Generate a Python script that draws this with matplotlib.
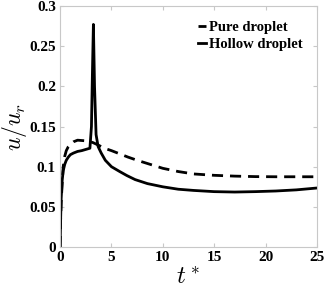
import matplotlib
matplotlib.use("Agg")
import matplotlib.pyplot as plt

plt.rcParams['font.family'] = ['Liberation Serif', 'DejaVu Serif']
plt.rcParams['mathtext.fontset'] = 'cm'

# pure droplet (dashed)
t_pure = [0, 0.05, 0.1, 0.2, 0.3, 0.45, 0.6, 0.8, 1.0, 1.3, 1.7, 2.2, 2.7, 3.2,
          3.7, 4.3, 5.0, 5.8, 6.6, 7.5, 8.5, 10, 11.5, 13, 15, 17, 19, 21, 23, 25]
u_pure = [0, 0.035, 0.055, 0.08, 0.1, 0.113, 0.12, 0.125, 0.128, 0.131, 0.133,
          0.1325, 0.132, 0.13, 0.127, 0.123, 0.12, 0.116, 0.112, 0.108, 0.104,
          0.098, 0.094, 0.091, 0.0893, 0.0883, 0.0877, 0.0875, 0.0875, 0.0875]

# hollow droplet (solid)
t_hollow = [0, 0.05, 0.1, 0.2, 0.3, 0.45, 0.6, 0.8, 1.0, 1.3, 1.7, 2.1, 2.5, 2.9,
            3.05, 3.15, 3.24, 3.35, 3.5, 3.7, 4.0, 4.4, 5.0, 5.8, 6.5, 7.3, 8.5,
            10, 11.5, 13, 15, 17, 19, 21, 23, 25]
u_hollow = [0, 0.035, 0.06, 0.083, 0.095, 0.103, 0.108, 0.112, 0.115, 0.117,
            0.119, 0.12, 0.1215, 0.123, 0.15, 0.22, 0.277, 0.2, 0.14, 0.125,
            0.117, 0.108, 0.1, 0.094, 0.089, 0.084, 0.079, 0.075, 0.072, 0.0705,
            0.069, 0.0685, 0.069, 0.0698, 0.0712, 0.0735]

xticks = [0, 5, 10, 15, 20, 25]
yticks = [0, 0.05, 0.1, 0.15, 0.2, 0.25, 0.3]
ytick_labels = ["0", "0.05", "0.1", "0.15", "0.2", "0.25", "0.3"]

fig = plt.figure(figsize=(3.25, 2.97), dpi=100)
ax = fig.add_axes([0.185, 0.168, 0.79, 0.812])

ax.plot(t_pure, u_pure, color="black", lw=2, ls=(0, (4, 2.5)), label="Pure droplet")
ax.plot(t_hollow, u_hollow, color="black", lw=2, label="Hollow droplet")

ax.set_xlim(0, 25)
ax.set_ylim(0, 0.3)
ax.set_xticks(xticks)
ax.set_xticklabels([str(x) for x in xticks])
ax.set_yticks(yticks)
ax.set_yticklabels(ytick_labels)

for s in ax.spines.values():
    s.set_color("#c8c8c8")
    s.set_linewidth(0.8)
ax.tick_params(direction="in", top=True, right=True, length=3, color="#c8c8c8",
               labelsize=11, pad=3)
for lab in ax.get_xticklabels() + ax.get_yticklabels():
    lab.set_fontweight("bold")

ax.set_xlabel("$t^*$", fontsize=18, labelpad=2)
ax.set_ylabel("$u/u_r$", fontsize=17, labelpad=0)

leg = ax.legend(loc="upper right", frameon=False, handlelength=0.5,
                handletextpad=0.2, labelspacing=0.3, borderaxespad=0.6,
                prop={"weight": "bold", "size": 10.5})

fig.savefig("out.png", dpi=100)
